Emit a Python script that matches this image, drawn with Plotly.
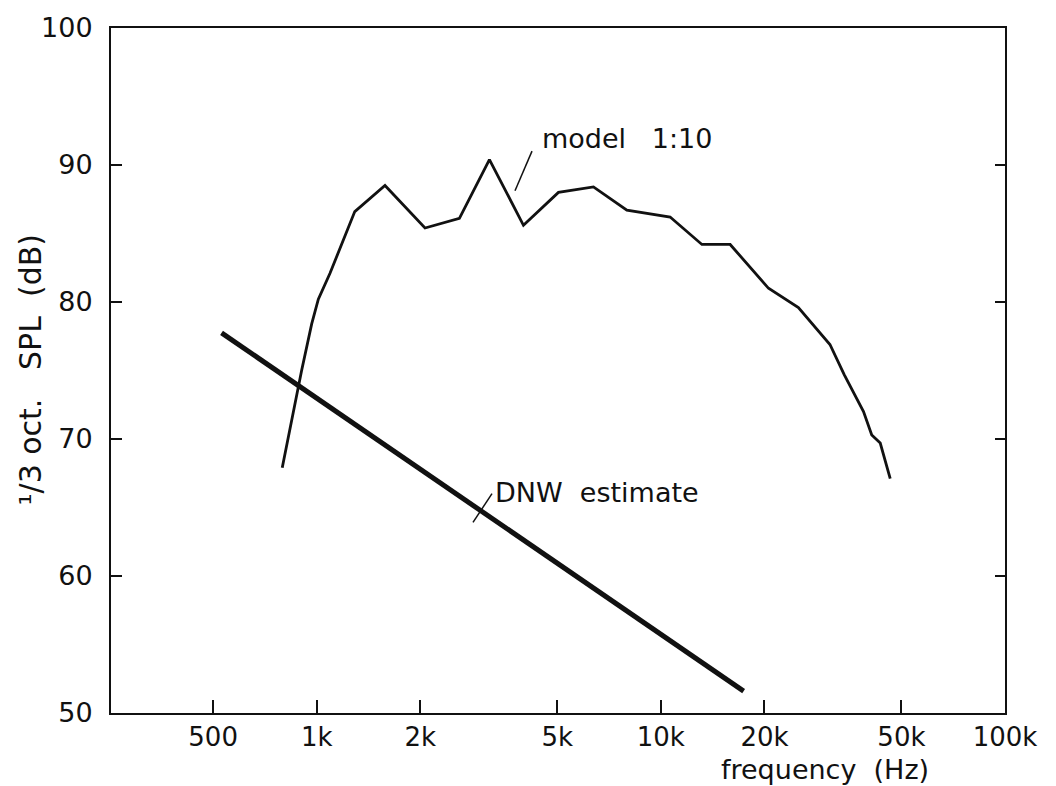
import plotly.graph_objects as go
import math

# ---- data ----
model_freq = [794, 904, 967, 1011, 1093, 1290, 1579, 2064, 2598, 3176, 3988, 5040,
              6370, 7965, 10640, 13160, 15900, 20550, 25100, 31000, 34100, 38800,
              41000, 43400, 46400]
model_spl = [67.9, 75.0, 78.4, 80.2, 82.1, 86.6, 88.5, 85.4, 86.1, 90.4, 85.6, 88.0,
             88.4, 86.7, 86.2, 84.2, 84.2, 81.0, 79.6, 76.9, 74.7, 72.0,
             70.3, 69.7, 67.1]

dnw_freq = [529, 17400]
dnw_spl = [77.75, 51.6]

x_tickvals = [500, 1000, 2000, 5000, 10000, 20000, 50000, 100000]
x_ticktext = ["500", "1k", "2k", "5k", "10k", "20k", "50k", "100k"]
y_tickvals = [50, 60, 70, 80, 90, 100]

FONT = "DejaVu Sans"
INK = "#111111"
NB = "\u00a0"

fig = go.Figure()
fig.add_trace(go.Scatter(x=model_freq, y=model_spl, mode="lines",
                         line=dict(color=INK, width=2.8), showlegend=False))
fig.add_trace(go.Scatter(x=dnw_freq, y=dnw_spl, mode="lines",
                         line=dict(color=INK, width=5), showlegend=False))
# invisible trace to activate right-side tick axis
fig.add_trace(go.Scatter(x=[1000], y=[75], yaxis="y2", mode="markers",
                         marker=dict(opacity=0), showlegend=False, hoverinfo="skip"))

fig.update_layout(
    width=1056, height=786,
    margin=dict(l=111, r=51, t=23, b=73),
    paper_bgcolor="white", plot_bgcolor="white",
    font=dict(family=FONT, color=INK, size=26),
    xaxis=dict(type="log", range=[math.log10(252.5), 5],
               tickvals=x_tickvals, ticktext=x_ticktext,
               ticks="inside", ticklen=13, tickwidth=1.5, tickcolor=INK,
               showline=True, linecolor=INK, linewidth=2, mirror=True,
               showgrid=False, zeroline=False, ticklabelstandoff=0,
               tickfont=dict(size=26)),
    yaxis=dict(range=[50, 100], tickvals=y_tickvals,
               ticks="inside", ticklen=11, tickwidth=1.5, tickcolor=INK,
               showline=True, linecolor=INK, linewidth=2, mirror=True,
               showgrid=False, zeroline=False, ticklabelstandoff=11,
               tickfont=dict(size=27)),
    yaxis2=dict(range=[50, 100], tickvals=y_tickvals, overlaying="y", side="right",
                ticks="inside", ticklen=10, tickwidth=1.5, tickcolor=INK,
                showticklabels=False, showgrid=False, zeroline=False, showline=False),
)

def px_x(p):
    return (p - 111) / 894.0

def px_y(p):
    return (713 - p) / 690.0

annos = [
    dict(text="model" + NB * 3 + "1:10", x=px_x(540), y=px_y(134), xanchor="left", yanchor="middle", size=27),
    dict(text="DNW" + NB * 2 + "estimate", x=px_x(493), y=px_y(491), xanchor="left", yanchor="middle", size=27),
    dict(text="frequency" + NB * 2 + "(Hz)", x=px_x(825), y=px_y(770), xanchor="center", yanchor="middle", size=27),
    dict(text="\u00b9/3" + NB + "oct." + NB * 3 + "SPL" + NB * 2 + "(dB)", x=px_x(30), y=px_y(368), textangle=-90,
         xanchor="center", yanchor="middle", size=30),
]
for a in annos:
    size = a.pop("size")
    fig.add_annotation(xref="paper", yref="paper", showarrow=False,
                       font=dict(family=FONT, size=size, color=INK), **a)

leaders = [((532, 147), (515, 187)), ((492, 492), (473, 521))]
for (x0, y0), (x1, y1) in leaders:
    fig.add_shape(type="line", xref="paper", yref="paper",
                  x0=px_x(x0), y0=px_y(y0), x1=px_x(x1), y1=px_y(y1),
                  line=dict(color=INK, width=1.5))

fig.write_html("out.html", config={"displayModeBar": False},
               post_script="document.body.style.margin='0';")
